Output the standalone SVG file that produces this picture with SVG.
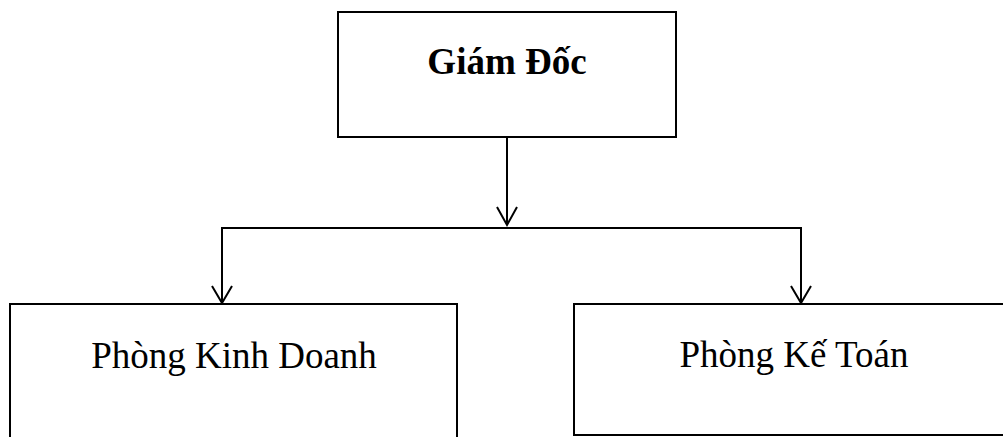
<svg xmlns="http://www.w3.org/2000/svg" width="1003" height="437" viewBox="0 0 1003 437">
  <style>
    .box { fill: #ffffff; stroke: #000000; stroke-width: 2; }
    .link { fill: none; stroke: #000000; stroke-width: 2; }
    .head { fill: none; stroke: #000000; stroke-width: 2; stroke-linejoin: miter; }
    .label { font-family: "Liberation Serif", "Times New Roman", serif; font-size: 37px; fill: #000000; text-anchor: middle; }
    .bold { font-weight: bold; }
  </style>
  <rect width="1003" height="437" fill="#ffffff"/>

  <!-- connectors -->
  <g id="connectors">
    <line class="link" x1="507" y1="137" x2="507" y2="224"/>
    <polyline class="head" points="497,207 507,225 517,207"/>
    <polyline class="link" points="222,302 222,228 801,228 801,302"/>
    <polyline class="head" points="212,286 222,303 232,286"/>
    <polyline class="head" points="791,286 801,303 811,286"/>
  </g>

  <!-- director -->
  <g id="giam-doc">
    <rect class="box" x="338" y="12" width="338" height="125"/>
    <text class="label bold" x="507" y="74">Giám Đốc</text>
  </g>

  <!-- sales department -->
  <g id="phong-kinh-doanh">
    <rect class="box" x="10" y="304" width="447" height="140"/>
    <text class="label" x="234" y="368">Phòng Kinh Doanh</text>
  </g>

  <!-- accounting department -->
  <g id="phong-ke-toan">
    <rect class="box" x="574" y="304" width="440" height="131"/>
    <text class="label" x="794" y="367">Phòng Kế Toán</text>
  </g>
</svg>
